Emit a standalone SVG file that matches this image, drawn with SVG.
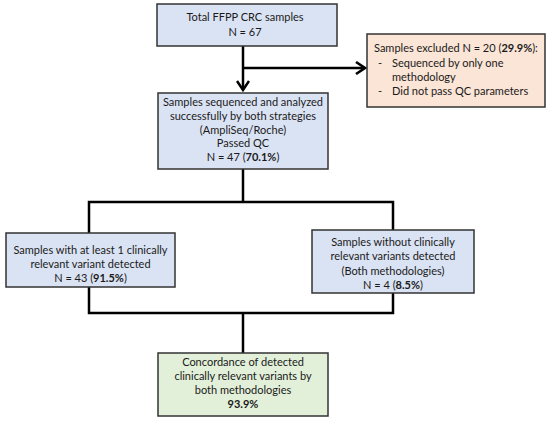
<svg xmlns="http://www.w3.org/2000/svg" width="550" height="423" viewBox="0 0 550 423">
<style>
.box{stroke:#333;stroke-width:1.5}
.blue{fill:#dae3f3}
.orange{fill:#fbe5d6}
.green{fill:#e2f0d9}
text{font-family:Lato,"Liberation Sans",sans-serif;font-size:11px;fill:#1a1a1a}
.c{text-anchor:middle}
.b{font-weight:bold}
.line{fill:none;stroke:#000;stroke-width:2.5}
</style>
<defs>
<marker id="arr" markerWidth="12" markerHeight="14" refX="10" refY="7" orient="auto" markerUnits="userSpaceOnUse">
<path d="M1,1 L10,7 L1,13" fill="none" stroke="#000" stroke-width="2.5"/>
</marker>
</defs>
<rect width="550" height="423" fill="#fff"/>
<g id="connectors">
<path class="line" d="M243,46 V90" marker-end="url(#arr)"/>
<path class="line" d="M243,68 H365" marker-end="url(#arr)"/>
<path class="line" d="M243,169 V202"/>
<path class="line" d="M89,233 V202 H393 V230"/>
<path class="line" d="M89,287 V313 H393 V293"/>
<path class="line" d="M243,313 V353"/>
</g>
<g id="total">
<rect class="box blue" x="157" y="4" width="180" height="42"/>
<text class="c" x="245" y="21">Total FFPP CRC samples</text>
<text class="c" x="245" y="36">N = 67</text>
</g>
<g id="excluded">
<rect class="box orange" x="367" y="34" width="178" height="73"/>
<text x="374" y="52">Samples excluded N = 20 (<tspan class="b">29.9%</tspan>):</text>
<text x="378" y="67">-</text>
<text x="392" y="67">Sequenced by only one</text>
<text x="392" y="81">methodology</text>
<text x="378" y="95">-</text>
<text x="392" y="95">Did not pass QC parameters</text>
</g>
<g id="passed">
<rect class="box blue" x="158" y="93" width="170" height="76"/>
<text class="c" x="243" y="106">Samples sequenced and analyzed</text>
<text class="c" x="243" y="120">successfully by both strategies</text>
<text class="c" x="243" y="133.5">(AmpliSeq/Roche)</text>
<text class="c" x="243" y="147">Passed QC</text>
<text class="c" x="243" y="161">N = 47 (<tspan class="b">70.1%</tspan>)</text>
</g>
<g id="withvariant">
<rect class="box blue" x="6" y="233" width="169" height="54"/>
<text class="c" x="90.5" y="254">Samples with at least 1 clinically</text>
<text class="c" x="90.5" y="268">relevant variant detected</text>
<text class="c" x="90.5" y="282">N = 43 (<tspan class="b">91.5%</tspan>)</text>
</g>
<g id="without">
<rect class="box blue" x="312" y="230" width="162" height="63"/>
<text class="c" x="393" y="246">Samples without clinically</text>
<text class="c" x="393" y="260">relevant variants detected</text>
<text class="c" x="393" y="275">(Both methodologies)</text>
<text class="c" x="393" y="289">N = 4 (<tspan class="b">8.5%</tspan>)</text>
</g>
<g id="concordance">
<rect class="box green" x="158" y="353" width="170" height="63"/>
<text class="c" x="243" y="366">Concordance of detected</text>
<text class="c" x="243" y="380">clinically relevant variants by</text>
<text class="c" x="243" y="394">both methodologies</text>
<text class="c b" x="243" y="408">93.9%</text>
</g>
</svg>
